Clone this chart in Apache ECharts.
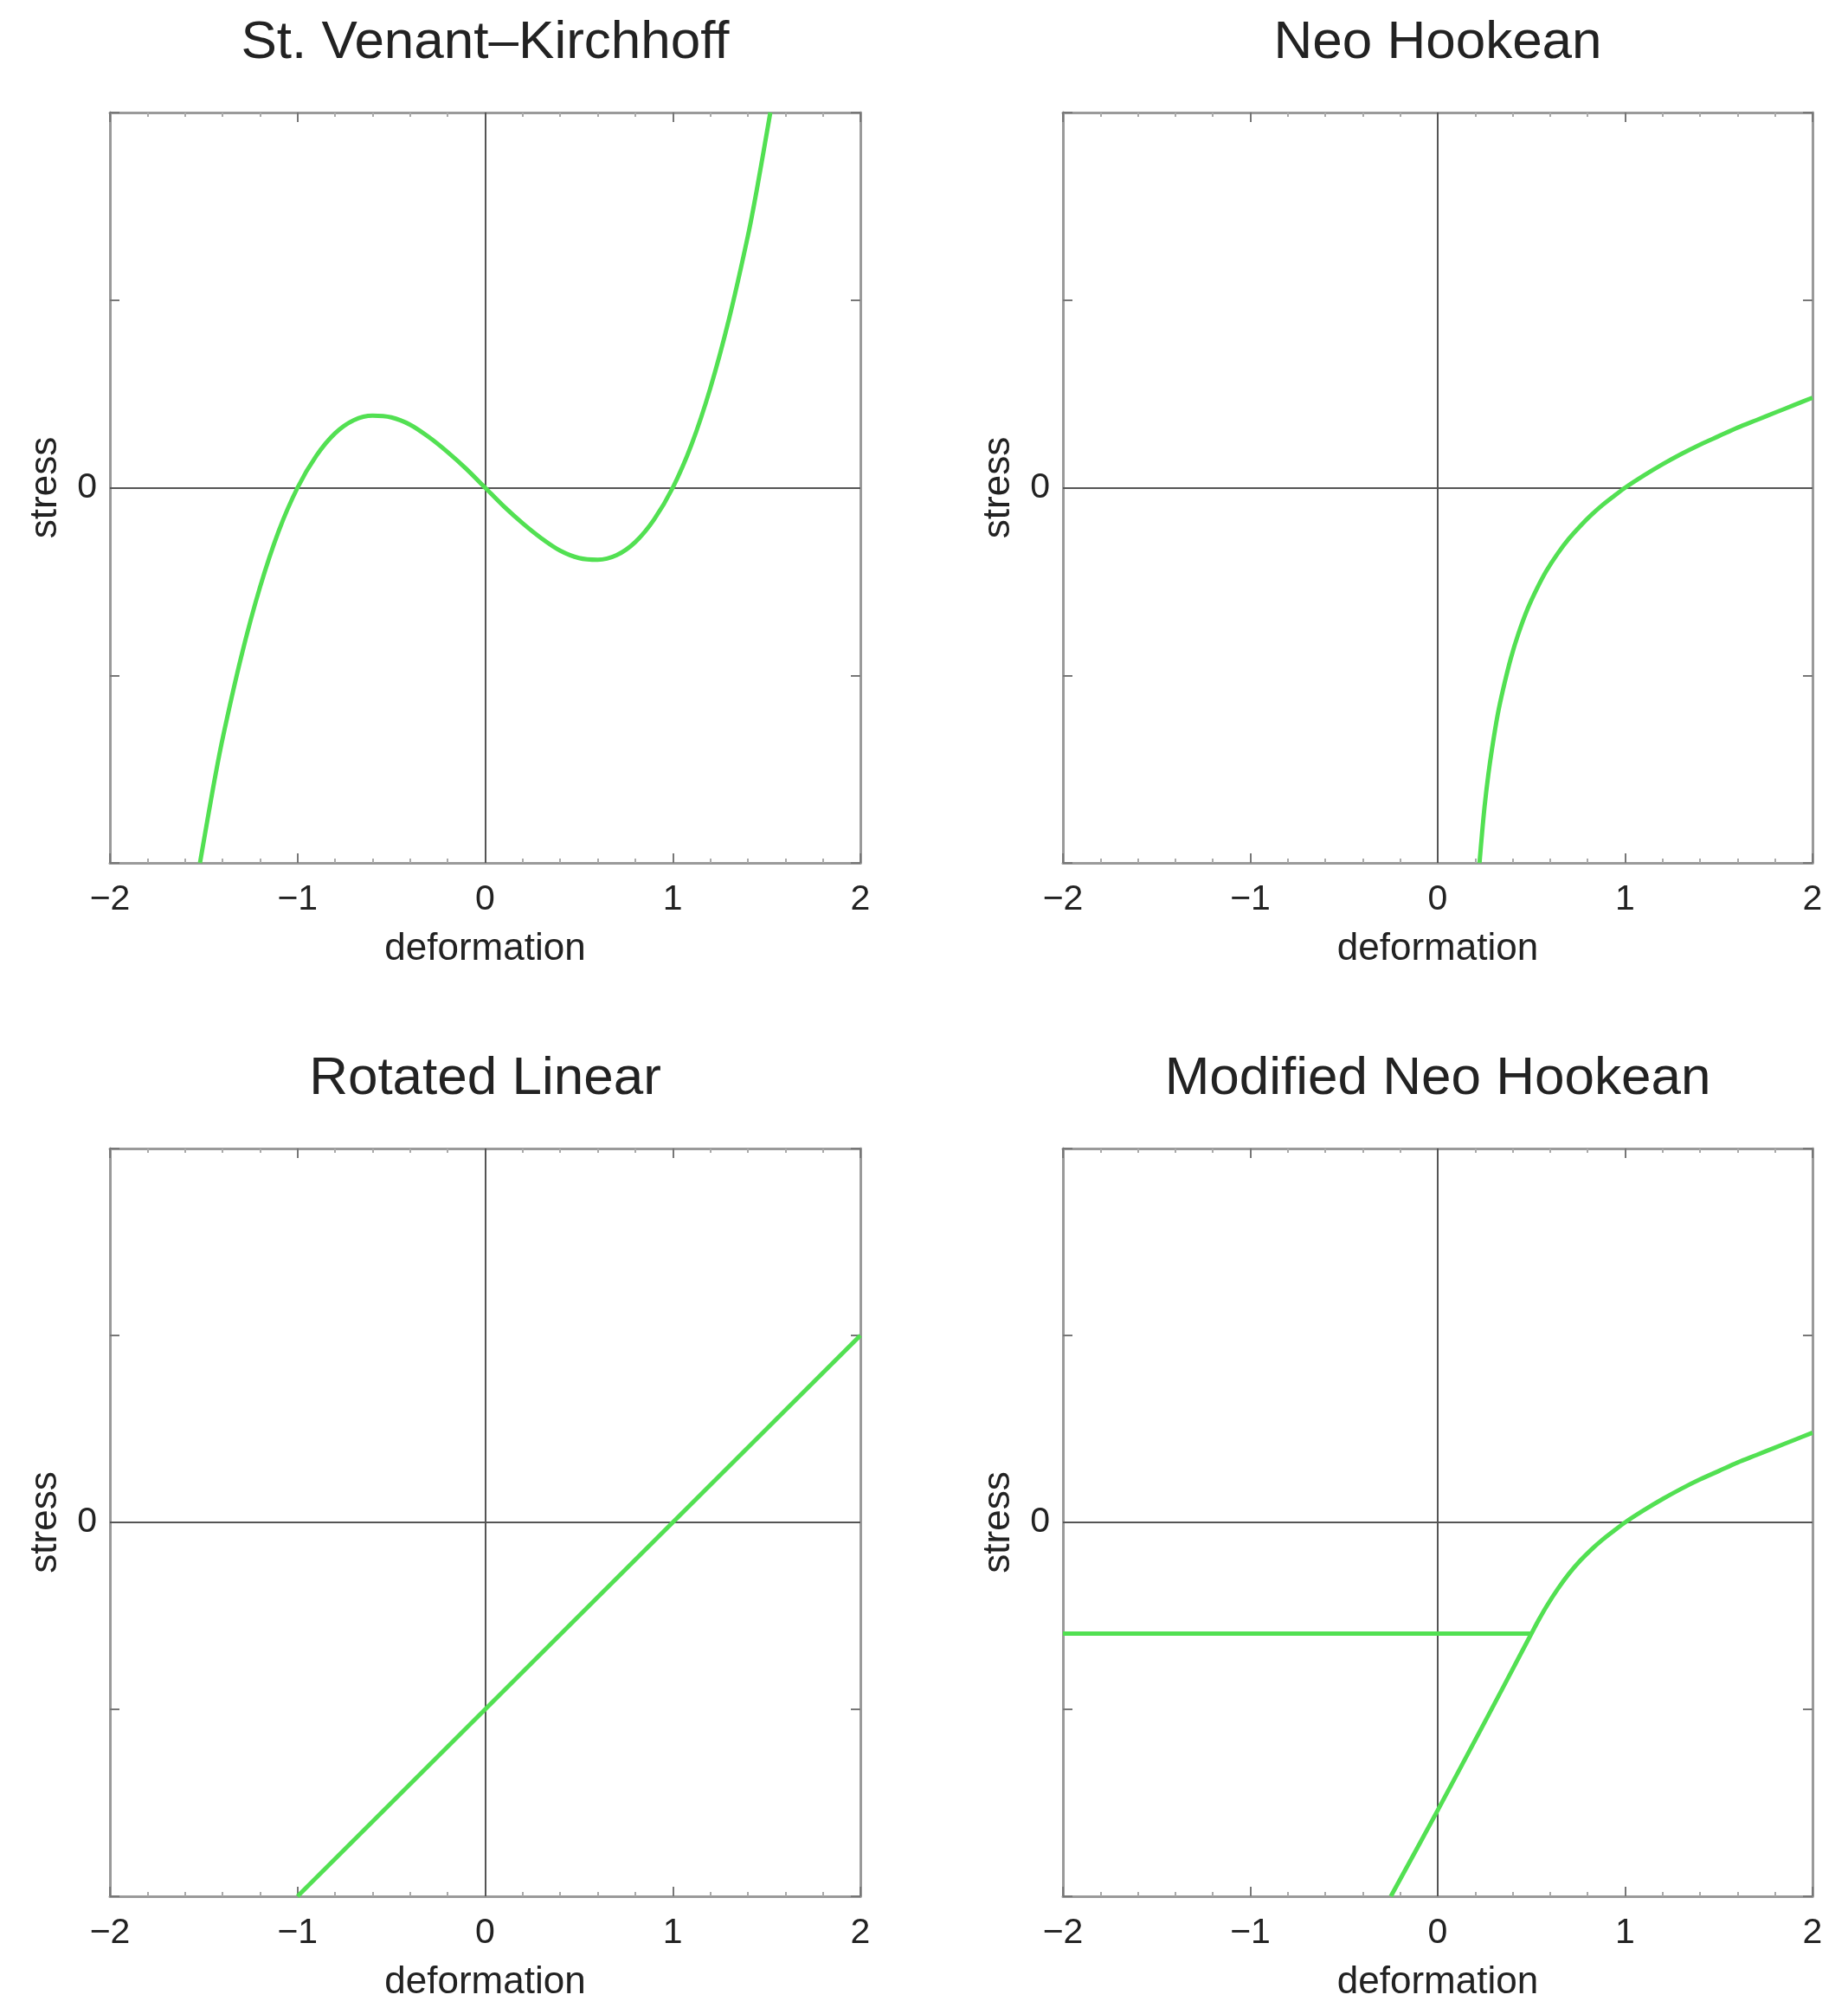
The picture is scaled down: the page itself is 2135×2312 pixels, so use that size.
<!DOCTYPE html>
<html>
<head>
<meta charset="utf-8">
<script src="https://cdn.jsdelivr.net/npm/echarts@6/dist/echarts.min.js"></script>
<style>
html, body { margin: 0; padding: 0; background: #fff; }
#main { width: 2135px; height: 2312px; }
</style>
</head>
<body>
<div id="main"></div>
<script>
// axis ranges / ticks
var xMin = -2, xMax = 2;
var yMin = -2, yMax = 2;
var labelledY = [0];

var titles = ['St. Venant\u2013Kirchhoff', 'Neo Hookean', 'Rotated Linear', 'Modified Neo Hookean'];

// St. Venant-Kirchhoff
var svkX = [-1.52, -1.45, -1.4, -1.3, -1.2, -1.1, -1.0, -0.9, -0.8, -0.7, -0.6, -0.5, -0.4, -0.3, -0.2, -0.1, 0,
	0.1, 0.2, 0.3, 0.4, 0.5, 0.6, 0.7, 0.8, 0.9, 1.0, 1.1, 1.2, 1.3, 1.4, 1.45, 1.52];
var svkY = [-2.0, -1.60, -1.34, -0.90, -0.53, -0.23, 0, 0.17, 0.29, 0.36, 0.384, 0.375, 0.336, 0.27, 0.19, 0.10, 0,
	-0.10, -0.19, -0.27, -0.336, -0.375, -0.384, -0.36, -0.29, -0.17, 0, 0.23, 0.53, 0.90, 1.34, 1.60, 2.0];

// Neo Hookean
var nhX = [0.223, 0.235, 0.25, 0.27, 0.29, 0.32, 0.35, 0.39, 0.43, 0.48, 0.53, 0.58, 0.64, 0.70, 0.76, 0.82, 0.88, 0.94,
	1.0, 1.1, 1.2, 1.3, 1.4, 1.5, 1.6, 1.7, 1.8, 1.9, 2.0];
var nhY = [-2.0, -1.86, -1.70, -1.53, -1.39, -1.21, -1.07, -0.91, -0.78, -0.645, -0.537, -0.443, -0.351, -0.272, -0.205, -0.145, -0.092, -0.045,
	0, 0.065, 0.125, 0.18, 0.23, 0.275, 0.32, 0.36, 0.40, 0.44, 0.48];

// Rotated Linear
var rlX = [-1, 2];
var rlY = [-2, 1];

// Modified Neo Hookean
var mnhX = [-0.25, 0, 0.25, 0.45, 0.50, 0.54, 0.58, 0.64, 0.70, 0.76, 0.82, 0.88, 0.94,
	1.0, 1.1, 1.2, 1.3, 1.4, 1.5, 1.6, 1.7, 1.8, 1.9, 2.0];
var mnhY = [-2.0, -1.54, -1.07, -0.69, -0.595, -0.52, -0.45, -0.357, -0.275, -0.205, -0.145, -0.092, -0.045,
	0, 0.065, 0.125, 0.18, 0.23, 0.275, 0.32, 0.36, 0.40, 0.44, 0.48];
var mnhFlatX = [-2, 0.5];
var mnhFlatY = [-0.595, -0.595];

function pairs(xs, ys) {
	var out = [];
	for (var i = 0; i < xs.length; i++) {
		out.push([xs[i], ys[i]]);
	}
	return out;
}

var panels = [
	{ left: 127, top: 130, width: 867, height: 867, lines: [pairs(svkX, svkY)] },
	{ left: 1228, top: 130, width: 866, height: 867, lines: [pairs(nhX, nhY)] },
	{ left: 127, top: 1327, width: 867, height: 864, lines: [pairs(rlX, rlY)] },
	{ left: 1228, top: 1327, width: 866, height: 864, lines: [pairs(mnhX, mnhY), pairs(mnhFlatX, mnhFlatY)] }
];

var font = 'Liberation Sans, Arial, Helvetica, sans-serif';
var frameColor = '#9a9a9a';
var tickColor = '#777';

var option = {
	animation: false,
	backgroundColor: '#fff',
	title: [],
	grid: [],
	xAxis: [],
	yAxis: [],
	series: []
};

panels.forEach(function (p, k) {
	option.title.push({
		text: titles[k],
		left: p.left + p.width / 2 - 5,
		top: p.top - 116,
		textAlign: 'center',
		textStyle: { fontFamily: font, fontSize: 62, fontWeight: 'normal', color: '#222' }
	});
	option.grid.push({
		left: p.left, top: p.top, width: p.width, height: p.height,
		containLabel: false, outerBoundsMode: 'none'
	});

	var xi = option.xAxis.length;
	var yi = option.yAxis.length;

	// bottom axis with labels
	option.xAxis.push({
		type: 'value', gridIndex: k, position: 'bottom', min: xMin, max: xMax, interval: 1,
		name: 'deformation', nameLocation: 'middle', nameGap: 78,
		nameTextStyle: { fontFamily: font, fontSize: 44, color: '#222' },
		axisLine: { onZero: false, lineStyle: { color: frameColor, width: 3 } },
		axisTick: { inside: true, length: 11, lineStyle: { color: tickColor, width: 2 } },
		minorTick: { show: true, splitNumber: 5, length: 5, lineStyle: { color: '#aaa', width: 2 } },
		axisLabel: {
			margin: 22, fontFamily: font, fontSize: 41, color: '#222',
			formatter: function (v) { return v < 0 ? '\u2212' + Math.abs(v) : String(v); }
		},
		splitLine: { show: false }
	});
	// top frame
	option.xAxis.push({
		type: 'value', gridIndex: k, position: 'top', min: xMin, max: xMax, interval: 1,
		axisLine: { onZero: false, lineStyle: { color: frameColor, width: 3 } },
		axisTick: { inside: true, length: 11, lineStyle: { color: tickColor, width: 2 } },
		minorTick: { show: true, splitNumber: 5, length: 5, lineStyle: { color: '#aaa', width: 2 } },
		axisLabel: { show: false },
		splitLine: { show: false }
	});
	// left axis with the single 0 label
	option.yAxis.push({
		type: 'value', gridIndex: k, position: 'left', min: yMin, max: yMax, interval: 1,
		name: 'stress', nameLocation: 'middle', nameGap: 52, nameRotate: 90,
		nameTextStyle: { fontFamily: font, fontSize: 44, color: '#222' },
		axisLine: { onZero: false, lineStyle: { color: frameColor, width: 3 } },
		axisTick: { inside: true, length: 11, lineStyle: { color: tickColor, width: 2 } },
		axisLabel: {
			margin: 15, fontFamily: font, fontSize: 41, color: '#222',
			formatter: function (v) { return labelledY.indexOf(v) >= 0 ? String(v) : ''; }
		},
		splitLine: { show: false }
	});
	// right frame
	option.yAxis.push({
		type: 'value', gridIndex: k, position: 'right', min: yMin, max: yMax, interval: 1,
		axisLine: { onZero: false, lineStyle: { color: frameColor, width: 3 } },
		axisTick: { inside: true, length: 11, lineStyle: { color: tickColor, width: 2 } },
		axisLabel: { show: false },
		splitLine: { show: false }
	});

	// zero cross lines
	option.series.push({
		type: 'line', xAxisIndex: xi, yAxisIndex: yi, data: [], z: 1,
		markLine: {
			silent: true, symbol: 'none', animation: false,
			label: { show: false },
			lineStyle: { color: '#555', width: 2, type: 'solid' },
			data: [{ xAxis: 0 }, { yAxis: 0 }]
		}
	});

	p.lines.forEach(function (d) {
		option.series.push({
			type: 'line', xAxisIndex: xi, yAxisIndex: yi, z: 5,
			data: d, smooth: d.length > 2 ? 0.3 : false,
			showSymbol: false, symbol: 'none', clip: true,
			lineStyle: { color: '#52e052', width: 5 }
		});
	});
});

var chart = echarts.init(document.getElementById('main'));
chart.setOption(option);
</script>
</body>
</html>
